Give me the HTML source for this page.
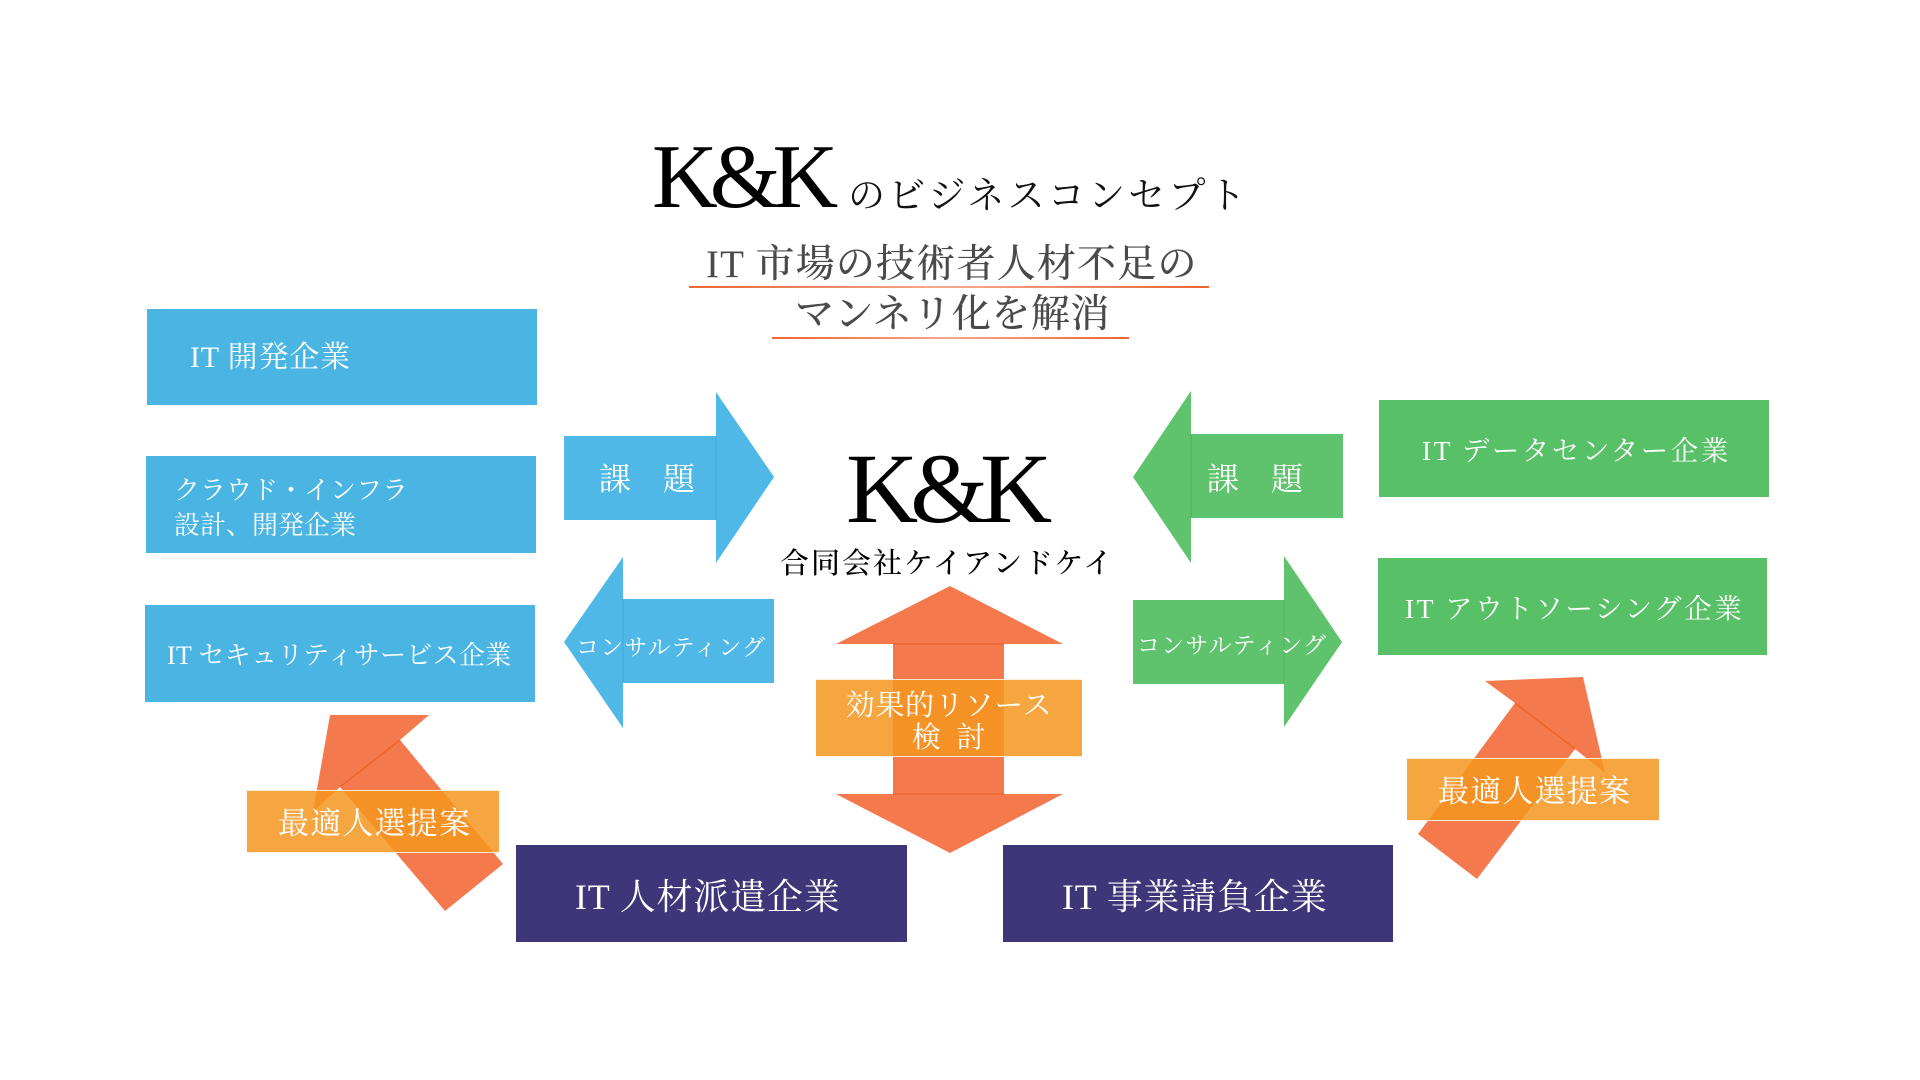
<!DOCTYPE html>
<html>
<head>
<meta charset="utf-8">
<style>
  html, body { margin:0; padding:0; background:#ffffff; }
  #c { position:relative; width:1920px; height:1080px; overflow:hidden; background:#fff; }
  svg { position:absolute; left:0; top:0; }
  .t { position:absolute; white-space:nowrap; line-height:1; font-family:"Liberation Serif","Noto Serif CJK SC","Noto Serif CJK JP",serif; font-weight:normal; }
  .w { color:#ffffff; }
</style>
</head>
<body>
<div id="c">
<svg width="1920" height="1080" viewBox="0 0 1920 1080">
  <defs>
    <linearGradient id="ul" x1="0" x2="1" y1="0" y2="0">
      <stop offset="0" stop-color="#ef6430"/>
      <stop offset="0.5" stop-color="#f5a98c"/>
      <stop offset="1" stop-color="#ef6430"/>
    </linearGradient>
  </defs>
  <rect x="689" y="286" width="520" height="2" fill="url(#ul)"/>
  <rect x="772" y="337" width="357" height="2" fill="url(#ul)"/>

  <!-- left blue boxes -->
  <rect x="147" y="309" width="390" height="96" fill="#4ab5e3"/>
  <rect x="146" y="456" width="390" height="97" fill="#4ab5e3"/>
  <rect x="145" y="605" width="390" height="97" fill="#4ab5e3"/>

  <!-- blue arrows -->
  <polygon points="564,436 716,436 716,392 774,477 716,563 716,520 564,520" fill="#4fb8e6"/>
  <line x1="716" y1="436" x2="716" y2="520" stroke="#44aedd" stroke-width="1.5"/>
  <polygon points="774,599 623,599 623,557 564,642 623,728 623,683 774,683" fill="#4fb8e6"/>
  <line x1="623" y1="599" x2="623" y2="683" stroke="#44aedd" stroke-width="1.5"/>

  <!-- green boxes -->
  <rect x="1379" y="400" width="390" height="97" fill="#58c066"/>
  <rect x="1378" y="558" width="389" height="97" fill="#58c066"/>

  <!-- green arrows -->
  <polygon points="1343,434 1191,434 1191,391 1133,477 1191,563 1191,518 1343,518" fill="#5ec36c"/>
  <line x1="1191" y1="434" x2="1191" y2="518" stroke="#52b960" stroke-width="1.5"/>
  <polygon points="1133,600 1284,600 1284,556 1342,642 1284,727 1284,684 1133,684" fill="#5ec36c"/>
  <line x1="1284" y1="600" x2="1284" y2="684" stroke="#52b960" stroke-width="1.5"/>

  <!-- orange vertical double arrow -->
  <polygon points="950,586 1063,644 1004,644 1004,794 1063,794 950,853 836,794 893,794 893,644 836,644" fill="#f47a4e"/>
  <line x1="893" y1="644" x2="1004" y2="644" stroke="#ee6530" stroke-width="1.5"/>
  <line x1="893" y1="794" x2="1004" y2="794" stroke="#ee6530" stroke-width="1.5"/>

  <!-- purple boxes -->
  <rect x="516" y="845" width="391" height="97" fill="#3d3679"/>
  <rect x="1003" y="845" width="390" height="97" fill="#3d3679"/>

  <!-- diagonal arrows -->
  <polygon points="330,715 429,715 400,740 503,864 445,911 340,787 313,812" fill="#f47a4e"/>
  <line x1="400" y1="740" x2="340" y2="787" stroke="#ee6428" stroke-width="1.5"/>
  <polygon points="1583,677 1605,773 1575,749 1477,879 1418,834 1515,703 1485,681" fill="#f47a4e"/>
  <line x1="1515" y1="703" x2="1575" y2="749" stroke="#ee6428" stroke-width="1.5"/>

  <!-- orange label boxes (semi-transparent) -->
  <rect x="816" y="679" width="266" height="78" fill="rgba(245,150,30,0.85)"/>
  <line x1="816" y1="679.5" x2="1082" y2="679.5" stroke="rgba(255,255,255,0.8)" stroke-width="1"/>
  <line x1="816" y1="756.5" x2="1082" y2="756.5" stroke="rgba(255,255,255,0.8)" stroke-width="1"/>
  <rect x="247" y="790" width="252" height="63" fill="rgba(245,150,30,0.85)"/>
  <line x1="247" y1="790.5" x2="499" y2="790.5" stroke="rgba(255,255,255,0.8)" stroke-width="1"/>
  <line x1="247" y1="852.5" x2="499" y2="852.5" stroke="rgba(255,255,255,0.8)" stroke-width="1"/>
  <rect x="1407" y="758" width="252" height="63" fill="rgba(245,150,30,0.85)"/>
  <line x1="1407" y1="758.5" x2="1659" y2="758.5" stroke="rgba(255,255,255,0.8)" stroke-width="1"/>
  <line x1="1407" y1="820.5" x2="1659" y2="820.5" stroke="rgba(255,255,255,0.8)" stroke-width="1"/>
</svg>

<!-- Title -->
<div class="t" style="left:652px; top:131px; font-size:91px; letter-spacing:-8px; color:#000;">K&amp;K</div>
<div class="t" style="left:848px; top:178px; font-size:37px; letter-spacing:3.2px; color:#111;">のビジネスコンセプト</div>
<div class="t" style="left:706px; top:245px; font-size:39px; letter-spacing:1.2px; color:#4a4a4a; font-weight:500;">IT 市場の技術者人材不足の</div>
<div class="t" style="left:795px; top:295px; font-size:39px; letter-spacing:0.5px; color:#4a4a4a; font-weight:500;">マンネリ化を解消</div>

<!-- Left blue box texts -->
<div class="t w" style="left:190px; top:343px; font-size:30px; letter-spacing:0.8px;">IT 開発企業</div>
<div class="t w" style="left:174px; top:478px; font-size:26px;">クラウド・インフラ</div>
<div class="t w" style="left:174px; top:513px; font-size:26px;">設計、開発企業</div>
<div class="t w" style="left:167px; top:643px; font-size:26px; letter-spacing:0.3px;">IT セキュリティサービス企業</div>

<!-- Blue arrow texts -->
<div class="t w" style="left:599px; top:463px; font-size:32px;">課　題</div>
<div class="t w" style="left:576px; top:636px; font-size:23px; letter-spacing:1.2px;">コンサルティング</div>

<!-- Center -->
<div class="t" style="left:846px; top:439px; font-size:100px; letter-spacing:-8px; color:#000;">K&amp;K</div>
<div class="t" style="left:780px; top:550px; font-size:29px; letter-spacing:2px; color:#000; font-weight:500;">合同会社ケイアンドケイ</div>
<div class="t w" style="left:816px; top:690px; width:266px; text-align:center; font-size:29px; line-height:32px; letter-spacing:0.7px;">効果的リソース<br>検<span style="display:inline-block;width:15px;"></span>討</div>

<!-- Green texts -->
<div class="t w" style="left:1207px; top:463px; font-size:32px;">課　題</div>
<div class="t w" style="left:1137px; top:634px; font-size:23px; letter-spacing:1.2px;">コンサルティング</div>
<div class="t w" style="left:1422px; top:437px; font-size:27.5px; letter-spacing:2.5px;">IT データセンター企業</div>
<div class="t w" style="left:1405px; top:595px; font-size:27.5px; letter-spacing:2.6px;">IT アウトソーシング企業</div>

<!-- Purple texts -->
<div class="t w" style="left:575px; top:879px; font-size:36px; letter-spacing:0.8px;">IT 人材派遣企業</div>
<div class="t w" style="left:1062px; top:879px; font-size:36px; letter-spacing:0.8px;">IT 事業請負企業</div>

<!-- Recommendation labels -->
<div class="t w" style="left:278px; top:808px; font-size:31px; letter-spacing:1.2px;">最適人選提案</div>
<div class="t w" style="left:1438px; top:776px; font-size:31px; letter-spacing:1.2px;">最適人選提案</div>
</div>
</body>
</html>
